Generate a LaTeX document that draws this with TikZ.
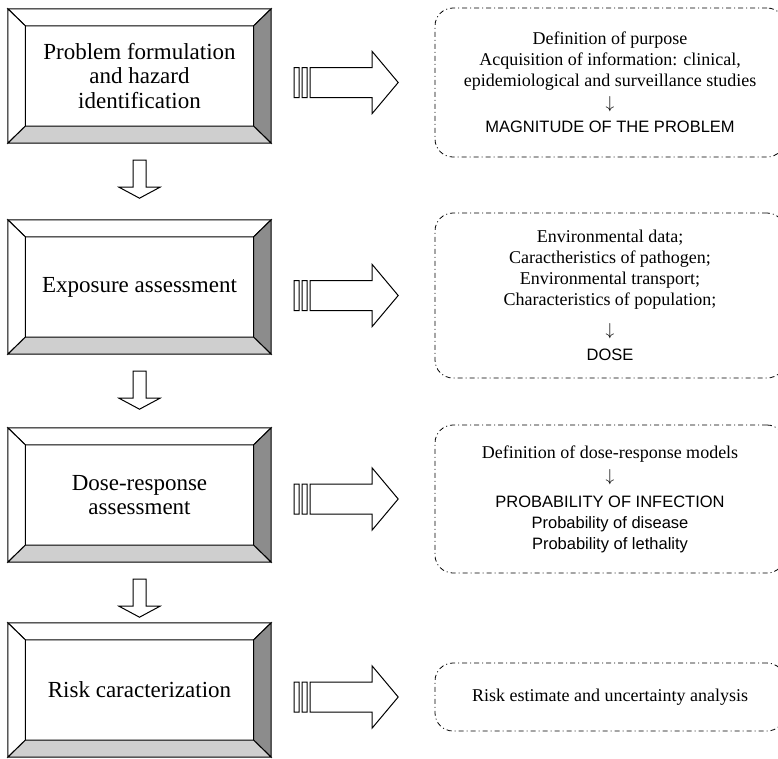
\documentclass[tikz,border=0pt]{standalone}
\usepackage{fontspec}
\setmainfont{Liberation Serif}
\setsansfont{Liberation Sans}
\usepackage{tikz}
\usetikzlibrary{calc}
\definecolor{bevdark}{HTML}{8C8C8C}
\definecolor{bevlight}{HTML}{CFCFCF}
\newcommand{\sanstxt}[1]{{\sffamily\fontsize{16.5}{21}\selectfont #1}}

\begin{document}
\begin{tikzpicture}[
    x=1pt, y=-1pt,
    outerbox/.style={minimum width=263pt, minimum height=134pt, inner sep=0pt},
    innerbox/.style={minimum width=228pt, minimum height=100pt, inner sep=0pt, align=center,
      font=\fontsize{23}{24.5}\selectfont},
    bevel/.style={draw, line width=1pt, line join=miter},
    notebox/.style={draw, line width=0.8pt, rounded corners=18pt, minimum width=350pt, inner sep=0pt,
      dash pattern=on 5pt off 3pt on 1pt off 3pt, align=center, font=\fontsize{18}{21}\selectfont},
    downarrow/.style={draw, line width=1pt, fill=white, to path={let \p1=(\tikztostart) in
      (\x1-6.5pt,\y1-17pt) -- (\x1+6.5pt,\y1-17pt) -- (\x1+6.5pt,\y1-44pt) -- (\x1+20.5pt,\y1-44pt)
      -- (\x1,\y1-55pt) -- (\x1-20.5pt,\y1-44pt) -- (\x1-6.5pt,\y1-44pt) -- cycle}},
    rightarrow/.style={draw, line width=1pt, fill=white, to path={let \p1=(\tikztostart) in
      (\x1+23pt,\y1+15pt) rectangle (\x1+28pt,\y1-15pt)
      (\x1+31pt,\y1+15pt) rectangle (\x1+36pt,\y1-15pt)
      (\x1+39pt,\y1+15pt) -- (\x1+101pt,\y1+15pt) -- (\x1+101pt,\y1+31pt) -- (\x1+127pt,\y1)
      -- (\x1+101pt,\y1-31pt) -- (\x1+101pt,\y1-15pt) -- (\x1+39pt,\y1-15pt) -- cycle}}
  ]
  \useasboundingbox (0,0) rectangle (778,758);

  % bevelled step boxes
  \foreach \n/\yc/\txt in {1/76/{Problem formulation\\and hazard\\identification},
      2/287/{Exposure assessment}, 3/495/{Dose-response\\assessment}, 4/690/{Risk caracterization}} {
    \node[outerbox] (p\n) at (139.5,\yc) {};
    \node[innerbox] (t\n) at (p\n) {\txt};
    \draw[bevel, fill=white] (p\n.north west) -- (p\n.north east) -- (t\n.north east) -- (t\n.north west) -- cycle;
    \draw[bevel, fill=white] (p\n.north west) -- (t\n.north west) -- (t\n.south west) -- (p\n.south west) -- cycle;
    \draw[bevel, fill=bevdark] (p\n.north east) -- (p\n.south east) -- (t\n.south east) -- (t\n.north east) -- cycle;
    \draw[bevel, fill=bevlight] (p\n.south west) -- (t\n.south west) -- (t\n.south east) -- (p\n.south east) -- cycle;
  }

  % result boxes
  \node[notebox, minimum height=149pt] (q1) at (610,82.5) {Definition of purpose\\
    Acquisition of information: clinical,\\epidemiological and surveillance studies\\[1pt]
    $\downarrow$\\[3pt]\sanstxt{MAGNITUDE OF THE PROBLEM}};
  \node[notebox, minimum height=165pt] (q2) at (610,295.5) {Environmental data;\\
    Caractheristics of pathogen;\\Environmental transport;\\Characteristics of population;\\[9pt]
    $\downarrow$\\[4pt]\sanstxt{DOSE}};
  \node[notebox, minimum height=148pt] (q3) at (610,499) {Definition of dose-response models\\[2pt]
    $\downarrow$\\[5pt]\sanstxt{PROBABILITY OF INFECTION}\\\sanstxt{Probability of disease}\\
    \sanstxt{Probability of lethality}};
  \node[notebox, minimum height=68pt] (q4) at (610,697) {Risk estimate and uncertainty analysis};

  \draw[downarrow] (p1.south) to (p2.north);
  \draw[downarrow] (p2.south) to (p3.north);
  \draw[downarrow] (p3.south) to (p4.north);
  \foreach \n in {1,...,4}
    \draw[rightarrow] (p\n.east |- q\n.west) to (q\n.west);
\end{tikzpicture}
\end{document}
